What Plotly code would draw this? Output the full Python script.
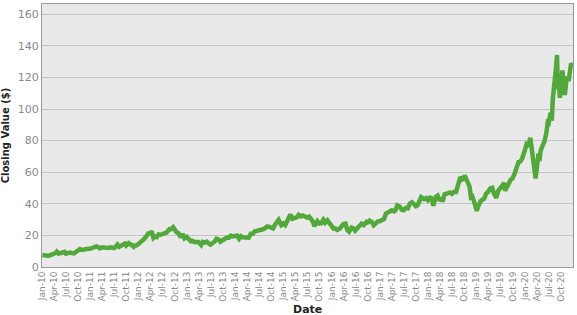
import plotly.graph_objects as go

dates = [
 "2010-01-04","2010-01-15","2010-01-29","2010-02-12","2010-02-26","2010-03-12","2010-03-31","2010-04-15","2010-04-23","2010-05-07","2010-05-25","2010-06-11","2010-06-21","2010-07-01","2010-07-15","2010-07-30","2010-08-13","2010-08-31","2010-09-15","2010-09-30","2010-10-15","2010-10-29","2010-11-12","2010-11-30","2010-12-15","2010-12-31",
 "2011-01-18","2011-01-31","2011-02-16","2011-02-28","2011-03-16","2011-03-31","2011-04-20","2011-04-29","2011-05-16","2011-05-31","2011-06-24","2011-06-30","2011-07-15","2011-07-26","2011-08-08","2011-08-31","2011-09-20","2011-09-30","2011-10-18","2011-10-31","2011-11-25","2011-11-30","2011-12-15","2011-12-30",
 "2012-01-13","2012-01-31","2012-02-15","2012-02-29","2012-03-15","2012-03-30","2012-04-09","2012-04-23","2012-05-04","2012-05-18","2012-05-31","2012-06-15","2012-06-29","2012-07-20","2012-07-31","2012-08-21","2012-08-31","2012-09-19","2012-09-28","2012-10-15","2012-10-31","2012-11-15","2012-11-30","2012-12-14","2012-12-31",
 "2013-01-18","2013-01-31","2013-02-15","2013-02-28","2013-03-15","2013-03-28","2013-04-19","2013-04-30","2013-05-15","2013-05-31","2013-06-24","2013-06-28","2013-07-15","2013-07-31","2013-08-13","2013-08-30","2013-09-11","2013-09-30","2013-10-15","2013-10-31","2013-11-15","2013-11-29","2013-12-13","2013-12-31",
 "2014-01-15","2014-01-31","2014-02-14","2014-02-28","2014-03-14","2014-03-31","2014-04-14","2014-04-30","2014-05-15","2014-05-30","2014-06-13","2014-06-30","2014-07-15","2014-07-31","2014-08-15","2014-08-29","2014-09-15","2014-09-30","2014-10-15","2014-10-31","2014-11-14","2014-11-26","2014-12-16","2014-12-31",
 "2015-01-15","2015-01-30","2015-02-13","2015-02-23","2015-03-11","2015-03-31","2015-04-15","2015-04-27","2015-05-15","2015-05-29","2015-06-15","2015-06-30","2015-07-15","2015-07-31","2015-08-12","2015-08-24","2015-09-15","2015-09-30","2015-10-15","2015-10-30","2015-11-13","2015-11-30","2015-12-15","2015-12-31",
 "2016-01-15","2016-01-29","2016-02-11","2016-02-29","2016-03-15","2016-03-31","2016-04-15","2016-04-29","2016-05-12","2016-05-31","2016-06-15","2016-06-27","2016-07-15","2016-07-29","2016-08-15","2016-08-31","2016-09-22","2016-09-30","2016-10-14","2016-10-31","2016-11-14","2016-11-30","2016-12-15","2016-12-30",
 "2017-01-13","2017-01-31","2017-02-15","2017-02-28","2017-03-15","2017-03-31","2017-04-18","2017-04-28","2017-05-12","2017-05-31","2017-06-15","2017-06-30","2017-07-14","2017-07-31","2017-08-15","2017-08-31","2017-09-15","2017-09-29","2017-10-13","2017-10-31","2017-11-08","2017-11-30","2017-12-15","2017-12-29",
 "2018-01-18","2018-01-31","2018-02-08","2018-02-28","2018-03-13","2018-03-29","2018-04-13","2018-04-20","2018-05-04","2018-05-31","2018-06-15","2018-06-29","2018-07-16","2018-07-31","2018-08-15","2018-08-31","2018-09-14","2018-09-28","2018-10-03","2018-10-24","2018-11-09","2018-11-20","2018-11-30","2018-12-14","2018-12-24",
 "2019-01-03","2019-01-15","2019-01-31","2019-02-15","2019-02-28","2019-03-15","2019-03-29","2019-04-15","2019-04-30","2019-05-13","2019-05-31","2019-06-14","2019-06-28","2019-07-15","2019-07-31","2019-08-05","2019-08-15","2019-08-30","2019-09-16","2019-09-30","2019-10-15","2019-10-31","2019-11-15","2019-11-29","2019-12-13","2019-12-31",
 "2020-01-15","2020-01-27","2020-01-31","2020-02-12","2020-02-28","2020-03-09","2020-03-16","2020-03-23","2020-03-31","2020-04-14","2020-04-21","2020-04-30","2020-05-15","2020-05-29","2020-06-12","2020-06-23","2020-06-30","2020-07-15","2020-07-24","2020-07-31","2020-08-14","2020-08-24","2020-09-01","2020-09-08","2020-09-15","2020-09-23","2020-10-02","2020-10-12","2020-10-30","2020-11-13","2020-11-30","2020-12-15","2020-12-31",
]

closing = [
 7.64,7.35,6.86,7.13,7.31,8.09,8.39,8.88,9.70,8.45,8.70,9.10,9.60,8.50,8.99,9.19,8.90,8.68,9.60,10.13,11.30,10.75,11.20,11.11,11.50,11.52,
 12.20,12.12,13.00,12.61,11.80,12.45,12.20,12.50,12.00,12.42,11.60,11.99,13.00,14.20,12.80,13.74,14.80,13.62,15.10,14.46,12.90,13.65,13.60,14.46,
 15.30,16.30,17.90,19.37,21.30,21.41,22.70,18.40,19.20,18.90,20.63,20.40,20.86,21.60,21.81,23.90,23.76,25.20,23.82,22.00,21.26,18.80,20.90,18.10,19.01,
 17.90,16.27,16.50,15.76,15.80,15.81,13.90,15.81,15.40,16.06,14.30,14.16,15.20,16.16,17.90,17.40,16.00,17.03,17.90,18.67,18.60,19.86,19.30,20.04,
 19.90,17.88,19.50,18.79,18.80,19.17,18.60,21.08,21.10,22.61,22.80,23.23,23.80,23.90,24.50,25.63,25.50,25.19,24.40,27.00,28.40,29.90,26.60,27.60,
 26.50,29.29,31.80,33.20,30.60,31.11,31.60,33.00,32.00,32.57,31.70,31.36,31.80,30.33,28.90,25.80,29.00,27.58,27.80,29.88,28.00,29.58,27.60,26.32,
 24.40,24.34,23.50,24.17,26.30,27.25,27.50,23.44,22.40,24.97,24.40,23.00,24.70,26.05,27.40,26.53,28.60,28.26,29.40,28.39,26.40,27.63,28.90,28.96,
 29.80,30.34,33.80,34.25,35.20,35.92,35.20,35.91,39.00,38.19,36.30,36.00,37.30,37.18,40.20,41.00,39.90,38.53,39.20,42.26,44.20,42.96,43.60,42.31,
 44.60,41.86,38.80,44.53,45.20,41.95,43.70,41.40,46.00,46.72,47.20,46.28,47.60,47.57,52.10,56.91,55.50,56.44,58.00,53.80,51.10,44.20,44.65,41.40,36.70,
 35.55,38.60,41.61,42.60,43.29,46.50,47.49,49.80,50.17,46.40,43.77,48.20,49.48,50.80,53.26,48.30,50.40,52.19,55.20,55.99,58.80,62.19,66.40,66.81,68.80,73.41,
 77.80,77.20,77.38,81.80,68.34,66.50,60.60,56.09,63.57,71.80,67.10,73.45,76.90,79.49,84.70,91.60,91.20,97.70,92.60,106.26,114.90,125.90,134.18,112.80,115.50,107.10,113.00,124.40,108.86,119.26,119.05,127.90,128.50,
]

tick_vals = ["%d-%02d-01" % (y, m) for y in range(2010, 2021) for m in (1, 4, 7, 10)]
y_ticks = [0, 20, 40, 60, 80, 100, 120, 140, 160]

fig = go.Figure(go.Scatter(
    x=dates, y=closing, mode="lines",
    line=dict(color="#52a83a", width=4.5),
    hoverinfo="x+y", showlegend=False,
))

font = "DejaVu Sans, Verdana, sans-serif"
fig.update_layout(
    width=577, height=315,
    margin=dict(l=42, r=4, t=4, b=48),
    paper_bgcolor="white",
    plot_bgcolor="#e9e9e9",
    font=dict(family=font, size=10, color="#888888"),
    xaxis=dict(
        type="date",
        range=["2010-01-01", "2020-12-31"],
        tickvals=tick_vals,
        tickformat="%b-%y",
        tickangle=-90,
        tickfont=dict(size=9, color="#888888"),
        showgrid=False,
        showline=True, linecolor="#999999", linewidth=1, mirror=True,
        ticks="", zeroline=False, automargin=False,
    ),
    yaxis=dict(
        range=[0, 166.5],
        tickvals=y_ticks,
        tickfont=dict(size=11, color="#888888"),
        showgrid=True, gridcolor="#c4c4c4", gridwidth=1,
        showline=True, linecolor="#999999", linewidth=1, mirror=True,
        ticks="", zeroline=False, automargin=False,
        title=dict(text="<b>Closing Value ($)</b>", font=dict(size=10, color="#222222"), standoff=7),
    ),
    annotations=[dict(
        text="<b>Date</b>", xref="paper", yref="paper", x=0.5, y=-0.16,
        xanchor="center", yanchor="middle", showarrow=False,
        font=dict(family=font, size=11, color="#222222"),
    )],
)

fig.write_html("out.html")
